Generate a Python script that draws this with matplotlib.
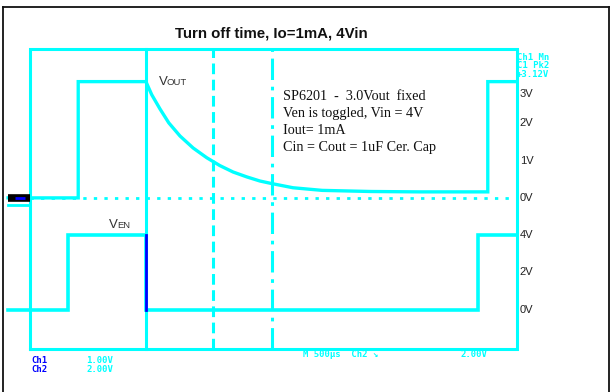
import matplotlib
matplotlib.use("Agg")
import matplotlib.pyplot as plt
from matplotlib.lines import Line2D

plt.rcParams['font.family'] = ['Liberation Sans', 'DejaVu Sans']

# ---- data (time in screen divisions, voltages in volts) ----
vout_t = [-0.45, 0.99, 0.99, 2.38, 2.50, 2.67, 2.85, 3.08, 3.35, 3.63, 3.90,
          4.17, 4.45, 4.72, 4.97, 5.40, 6.00, 7.00, 8.00, 9.40, 9.40, 10.0]
vout_v = [0.0, 0.0, 3.1, 3.1, 2.75, 2.37, 2.0, 1.65, 1.33, 1.07, 0.86,
          0.69, 0.56, 0.45, 0.38, 0.27, 0.20, 0.17, 0.16, 0.16, 3.1, 3.1]
ven_t = [-0.45, 0.78, 0.78, 2.38, 2.38, 9.20, 9.20, 10.0]
ven_v = [0.0, 0.0, 4.0, 4.0, 0.0, 0.0, 4.0, 4.0]

vout_labels = ['0V', '1V', '2V', '3V']
vout_label_v = [0.0, 0.97, 2.0, 2.77]
ven_labels = ['0V', '2V', '4V']
ven_label_v = [0.0, 2.0, 4.0]

cursor_solid = 2.38
cursor_dash = 3.76
cursor_dashdot = 4.97

title = "Turn off time, Io=1mA, 4Vin"
note = ["SP6201  -  3.0Vout  fixed",
        "Ven is toggled, Vin = 4V",
        "Iout= 1mA",
        "Cin = Cout = 1uF Cer. Cap"]

# channel settings (screen divisions)
VOUT_OFF, VOUT_SCALE = 4.03, 1.0     # 1 V/div
VEN_OFF, VEN_SCALE = 1.05, 0.5       # 2 V/div

def s_out(v):
    return [VOUT_OFF + VOUT_SCALE * x for x in v]

def s_en(v):
    return [VEN_OFF + VEN_SCALE * x for x in v]

CY = '#00FFFF'
BL = '#0000FF'

fig = plt.figure(figsize=(6.10, 3.92), dpi=100)
ax = fig.add_axes([0, 0, 1, 1])
ax.set_xlim(-30 / 48.7, 580 / 48.7)
ax.set_ylim(-43 / 37.5, 8 + 49 / 37.5)
ax.axis('off')

# outer black frame
for ln in [Line2D([3/610, 609/610], [1-7/392, 1-7/392]),
           Line2D([3/610, 3/610], [0, 1-7/392]),
           Line2D([609/610, 609/610], [0, 1-7/392])]:
    ln.set_color('#111111'); ln.set_linewidth(1.3)
    ln.set_transform(fig.transFigure)
    fig.add_artist(ln)

# graticule frame (10 x 8 div)
ax.plot([0, 10, 10, 0, 0], [0, 0, 8, 8, 0], color=CY, lw=2.2,
        solid_joinstyle='miter')
ax.plot([cursor_solid, cursor_solid], [0, 8], color=CY, lw=2.2)
ax.plot([cursor_dash, cursor_dash], [0, 8], color=CY, lw=2.2,
        dashes=(3.5, 1.8))
ax.plot([cursor_dashdot, cursor_dashdot], [0, 8], color=CY, lw=2.2,
        dashes=(7, 2.2, 1.2, 2.2))
# zero reference (dotted)
ax.plot([0, 10], s_out([0, 0]), color=CY, lw=2.0, dashes=(1.2, 2.6))

# traces
ax.plot(vout_t, s_out(vout_v), color=CY, lw=2.4, solid_joinstyle='miter')
ax.plot(ven_t, s_en(ven_v), color=CY, lw=2.6, solid_joinstyle='miter')
# falling edge of Ven highlighted
ax.plot(ven_t[3:5], s_en(ven_v[3:5]), color=BL, lw=2.0)

# channel markers on the left
ax.plot([-0.45, 0.0], s_out([0, 0]), color='#000000', lw=5.5,
        solid_capstyle='butt')
ax.plot([-0.3, -0.1], s_out([0, 0]), color=BL, lw=2.0,
        solid_capstyle='butt')
ax.plot([-0.45, 0.0], s_out([-0.18, -0.18]), color=CY, lw=2.0)

# right-side voltage labels
for lab, v in zip(vout_labels, vout_label_v):
    ax.text(10.06, s_out([v])[0], lab, fontsize=8, color='#222222',
            ha='left', va='center')
for lab, v in zip(ven_labels, ven_label_v):
    ax.text(10.06, s_en([v])[0], lab, fontsize=8, color='#222222',
            ha='left', va='center')

# trace names
ax.text(2.64, 7.13, 'V', fontsize=9.5, color='#333333', ha='left', va='center')
ax.text(2.80, 7.10, 'OUT', fontsize=6.8, color='#333333', ha='left', va='center')
ax.text(1.63, 3.32, 'V', fontsize=9.5, color='#333333', ha='left', va='center')
ax.text(1.79, 3.29, 'EN', fontsize=6.8, color='#333333', ha='left', va='center')

# annotation block
for i, line in enumerate(note):
    fig.text(283/610, 1 - (97 + i * 16.8)/392, line, fontsize=10.2,
             family=['Liberation Serif', 'DejaVu Serif'], color='#111111',
             ha='left', va='center')

# title
fig.text(271/610, 1 - 34/392, title, fontsize=10.8, fontweight='bold',
         ha='center', va='center', color='#111111')

# scope readout fragments (low-res in original)
mono = ['DejaVu Sans Mono']
ax.text(10.0, 7.55, 'Ch1 Mn\nC1 Pk2\n+3.12V', fontsize=6.5, color=CY,
        fontweight='bold', ha='left', va='center', linespacing=0.95,
        family=mono)
ax.text(0.02, -0.42, 'Ch1\nCh2', fontsize=6.5, color=BL, fontweight='bold',
        ha='left', va='center', linespacing=1.0, family=mono)
ax.text(1.15, -0.42, '1.00V\n2.00V', fontsize=6.5, color=CY, fontweight='bold',
        ha='left', va='center', linespacing=1.0, family=mono)
ax.text(5.6, -0.15, 'M 500\u00b5s  Ch2 \u2198', fontsize=6.5, color=CY,
        fontweight='bold', ha='left', va='center', family=mono)
ax.text(8.85, -0.15, '2.00V', fontsize=6.5, color=CY, fontweight='bold',
        ha='left', va='center', family=mono)

fig.savefig('out.png', dpi=100)
